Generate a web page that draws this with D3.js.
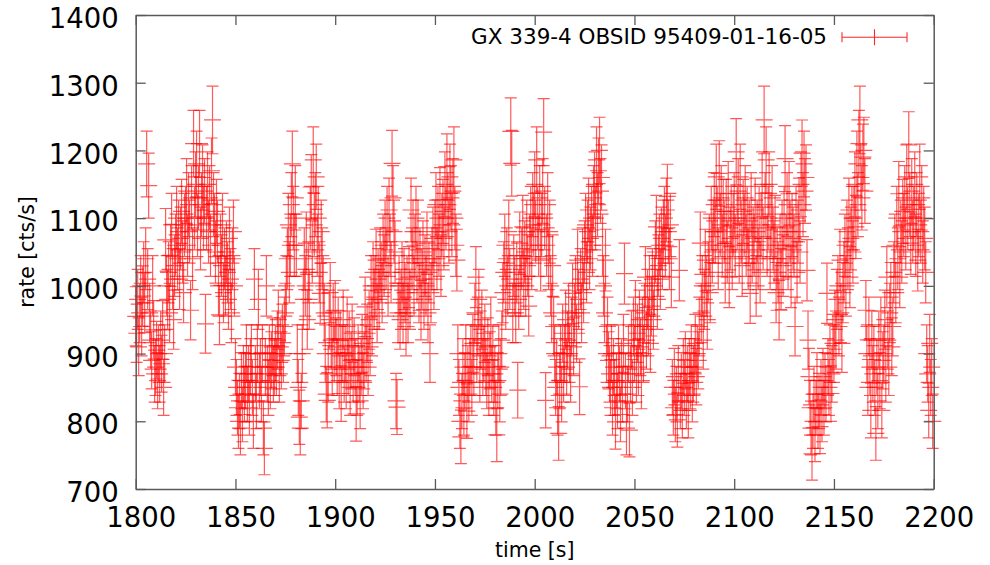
<!DOCTYPE html>
<html>
<head>
<meta charset="utf-8">
<script src="https://cdn.jsdelivr.net/npm/d3@7"></script>
<style>
  html, body { margin: 0; padding: 0; background: #fff; }
  svg { display: block; font-family: "DejaVu Sans", sans-serif; }
</style>
</head>
<body>
<div id="chart"></div>
<script>
// light curve data (0.5 s bins starting at 1800 s), one line = 5 s
const binStart = 1800;
const binWidth = 0.5;
const rate = [
  955, 930, 980, 910, 960, 1000, 940, 985, 1020, 975,
  1040, 1180, 1010, 1148, 960, 920, 890, 1000, 935, 870,
  880, 905, 860, 900, 870, 920, 885, 935, 850, 900,
  1068, 1000, 980, 1020, 960, 1045, 1090, 1010, 950, 1030,
  1060, 1100, 1040, 1080, 1010, 1070, 1110, 1050, 990, 1090,
  1100, 1140, 1060, 1120, 1080, 964, 1130, 1040, 1210, 1100,
  1150, 1180, 1090, 1130, 1210, 1070, 1120, 1160, 1100, 1140,
  944, 1100, 1150, 1080, 1130, 1060, 1170, 1245, 1120, 1090,
  1050, 1110, 1080, 1000, 957, 1060, 1030, 1090, 990, 1040,
  1000, 1050, 1020, 980, 1070, 1010, 960, 1040, 1080, 1000,
  880, 850, 820, 800, 830, 790, 860, 810, 870, 840,
  860, 900, 840, 870, 820, 880, 900, 850, 800, 1010,
  870, 830, 900, 980, 860, 880, 840, 900, 790, 760,
  880, 1000, 870, 850, 900, 860, 890, 910, 870, 880,
  900, 880, 920, 950, 870, 910, 890, 930, 900, 940,
  960, 1000, 1040, 1090, 1020, 1060, 1120, 1180, 1100, 1060,
  1130, 1060, 900, 850, 806, 790, 830, 900, 980, 1040,
  1000, 1063, 950, 1020, 980, 1100, 1146, 1050, 1186, 1090,
  1120, 1161, 1060, 1100, 1020, 989, 1080, 1040, 1000, 960,
  900, 840, 831, 870, 950, 990, 920, 880, 960, 900,
  964, 910, 880, 940, 860, 920, 841, 900, 950, 870,
  900, 860, 940, 880, 920, 850, 890, 930, 870, 910,
  880, 811, 850, 900, 870, 830, 880, 915, 860, 890,
  969, 900, 930, 880, 950, 910, 1000, 940, 1020, 980,
  1000, 1038, 960, 1010, 980, 1040, 1020, 990, 1060, 1030,
  1080, 1040, 1100, 1000, 1112, 1060, 1020, 1181, 1130, 1080,
  1050, 830, 821, 960, 1000, 950, 980, 1020, 960, 1010,
  990, 940, 1000, 960, 1013, 980, 1112, 1040, 1080, 1000,
  1060, 1100, 1020, 1080, 990, 1040, 964, 1010, 1050, 980,
  1030, 1000, 1063, 960, 1020, 900, 990, 1040, 1070, 1010,
  1080, 1120, 1040, 1100, 1060, 1127, 1030, 1090, 1110, 1070,
  1150, 1100, 1176, 1120, 1080, 1161, 1130, 1090, 1140, 1186,
  1100, 1060, 1038, 900, 850, 800, 777, 830, 880, 820,
  860, 900, 815, 870, 840, 880, 900, 850, 915, 880,
  960, 1013, 900, 940, 980, 870, 920, 950, 880, 900,
  930, 880, 860, 910, 850, 890, 940, 870, 900, 850,
  870, 820, 780, 860, 900, 840, 880, 920, 990, 1020,
  1060, 980, 1040, 1000, 1080, 1010, 1228, 1181, 960, 1030,
  1000, 960, 1020, 846, 980, 1063, 1000, 1040, 1087, 1010,
  1050, 1000, 1080, 1030, 970, 1060, 1100, 1040, 1120, 1090,
  1150, 1080, 1186, 1100, 1060, 1130, 1038, 1090, 1140, 1227,
  1100, 831, 1060, 1120, 1040, 1080, 1000, 960, 1030, 940,
  900, 850, 880, 820, 782, 860, 900, 840, 930, 870,
  900, 950, 880, 920, 960, 900, 870, 940, 989, 910,
  960, 1000, 930, 1038, 980, 851, 1010, 960, 1040, 990,
  1050, 1090, 1020, 1080, 1112, 1040, 1070, 1100, 1060, 1130,
  1150, 1100, 1186, 1120, 1170, 1200, 1140, 1160, 1060, 1000,
  960, 1038, 900, 940, 890, 870, 850, 900, 820, 880,
  850, 799, 860, 830, 900, 870, 810, 880, 840, 915,
  1018, 860, 790, 840, 900, 787, 870, 920, 850, 940,
  900, 964, 870, 930, 880, 950, 910, 860, 940, 900,
  960, 1013, 920, 980, 940, 1000, 915, 970, 1010, 950,
  1000, 1050, 1087, 980, 1030, 1060, 1010, 1070, 1040, 1080,
  1100, 1060, 1112, 1132, 1080, 1040, 1090, 1013, 850, 820,
  866, 810, 840, 802, 870, 1023, 830, 860, 816, 880,
  850, 890, 830, 870, 816, 880, 860, 900, 840, 870,
  880, 915, 866, 900, 890, 940, 1063, 960, 1000, 920,
  980, 1038, 1000, 950, 1020, 1060, 990, 1100, 1050, 1080,
  1120, 1080, 1161, 1100, 1040, 1166, 1090, 1130, 1060, 1110,
  1080, 1020, 1110, 1050, 1136, 1013, 1070, 1100, 1040, 1090,
  1120, 1060, 1198, 1100, 1140, 1050, 1161, 1080, 1030, 1110,
  1090, 1130, 1060, 1100, 1040, 1080, 989, 1120, 1050, 1070,
  1060, 1112, 1000, 1080, 1040, 1100, 1020, 1090, 1150, 1070,
  1245, 1120, 1186, 1060, 1100, 1150, 1040, 1090, 1130, 1070,
  1050, 1087, 990, 1040, 1020, 964, 1060, 1010, 1080, 1030,
  1100, 1188, 1060, 1120, 1040, 1136, 1080, 1013, 1090, 1070,
  1060, 940, 1100, 1020, 1080, 1112, 1050, 1150, 1196, 1120,
  1180, 1140, 1160, 1023, 920, 866, 820, 790, 752, 800,
  840, 780, 820, 860, 800, 830, 792, 850, 810, 866,
  820, 860, 840, 989, 880, 850, 900, 841, 870, 915,
  900, 950, 920, 980, 1000, 940, 1038, 960, 915, 990,
  1020, 1060, 1000, 1080, 1040, 1112, 1013, 1070, 1100, 1050,
  1100, 1150, 1087, 1180, 1120, 1210, 1245, 1160, 1130, 1190,
  1200, 1140, 964, 900, 850, 940, 880, 816, 920, 870,
  900, 850, 782, 880, 830, 920, 860, 940, 816, 890,
  900, 950, 870, 1013, 920, 880, 960, 990, 910, 940,
  1020, 1060, 990, 1100, 1040, 1136, 1013, 1080, 1050, 1110,
  1090, 1130, 1070, 1161, 1100, 1208, 1120, 1063, 1140, 1080,
  1100, 1150, 1060, 1120, 1038, 1090, 1161, 1080, 1130, 1050,
  1100, 1070, 1020, 900, 870, 816, 915, 850, 880, 800
];

const xTicks = [1800, 1850, 1900, 1950, 2000, 2050, 2100, 2150, 2200];
const yTicks = [700, 800, 900, 1000, 1100, 1200, 1300, 1400];
const legendLabel = 'GX 339-4 OBSID 95409-01-16-05';
const xLabel = 'time [s]';
const yLabel = 'rate [cts/s]';

const WIDTH = 990, HEIGHT = 565;
const PLOT = { left: 135.7, right: 933.7, top: 15, bottom: 489 };
const RED = '#ff0000';
const AXIS_COLOR = '#5a5a5a';
const CAP = 6, PLUS = 8.5;

const svg = d3.select('#chart')
  .append('svg')
  .attr('width', WIDTH)
  .attr('height', HEIGHT)
  .style('background', '#fff');

const x = d3.scaleLinear().domain([1800, 2200]).range([PLOT.left, PLOT.right]);
const y = d3.scaleLinear().domain([700, 1400]).range([PLOT.bottom, PLOT.top]);

// points with Poisson errors of each bin
const points = rate.map((r, i) => ({
  t: binStart + i * binWidth,
  r: r,
  err: Math.sqrt(r * binWidth) / binWidth
}));

// error bars: vertical bar + caps + "+" marker at the value
svg.append('g')
  .selectAll('path')
  .data(points)
  .join('path')
  .attr('d', d => {
    const px = x(d.t), py = y(d.r);
    const y1 = y(d.r + d.err), y2 = y(d.r - d.err);
    return `M${px},${y1}V${y2}` +
      `M${px - CAP},${y1}H${px + CAP}` +
      `M${px - CAP},${y2}H${px + CAP}` +
      `M${px - PLUS},${py}H${px + PLUS}`;
  })
  .attr('fill', 'none')
  .attr('stroke', RED)
  .attr('stroke-width', 1.2)
  .attr('stroke-opacity', 0.65);

// axes (ticks pointing inward, mirrored on top/right)
function styleAxis(g) {
  g.select('.domain').attr('stroke', AXIS_COLOR).attr('stroke-width', 1.5);
  g.selectAll('.tick line').attr('stroke', AXIS_COLOR).attr('stroke-width', 1.3);
  g.selectAll('.tick text').attr('fill', '#000').attr('font-family', '"DejaVu Sans", sans-serif');
}

svg.append('g')
  .attr('transform', `translate(0,${PLOT.bottom})`)
  .call(d3.axisBottom(x).tickValues(xTicks).tickSizeInner(-10).tickSizeOuter(0).tickPadding(18.5).tickFormat(d3.format('d')))
  .call(styleAxis)
  .call(g => g.selectAll('.tick text').attr('font-size', 27.5).attr('dx', 5));

svg.append('g')
  .attr('transform', `translate(0,${PLOT.top})`)
  .call(d3.axisTop(x).tickValues(xTicks).tickSizeInner(-10).tickSizeOuter(0).tickFormat(''))
  .call(styleAxis);

svg.append('g')
  .attr('transform', `translate(${PLOT.left},0)`)
  .call(d3.axisLeft(y).tickValues(yTicks).tickSizeInner(-10).tickSizeOuter(0).tickPadding(17).tickFormat(d3.format('d')))
  .call(styleAxis)
  .call(g => g.selectAll('.tick text').attr('font-size', 27.5).attr('dy', '0.46em'));

svg.append('g')
  .attr('transform', `translate(${PLOT.right},0)`)
  .call(d3.axisRight(y).tickValues(yTicks).tickSizeInner(-10).tickSizeOuter(0).tickFormat(''))
  .call(styleAxis);

// axis titles
svg.append('text')
  .attr('x', (PLOT.left + PLOT.right) / 2)
  .attr('y', 557)
  .attr('text-anchor', 'middle')
  .attr('font-size', 20.5)
  .attr('fill', '#000')
  .text(xLabel);

svg.append('text')
  .attr('transform', `translate(34,${(PLOT.top + PLOT.bottom) / 2}) rotate(-90)`)
  .attr('text-anchor', 'middle')
  .attr('font-size', 20.5)
  .attr('fill', '#000')
  .text(yLabel);

// legend
const legend = svg.append('g').attr('transform', 'translate(0,37.3)');
legend.append('text')
  .attr('x', 827)
  .attr('y', 7)
  .attr('text-anchor', 'end')
  .attr('font-size', 21.5)
  .attr('fill', '#000')
  .text(legendLabel);

legend.append('path')
  .attr('d', 'M842,0H907M842,-5V5M907,-5V5M874.5,-8V8')
  .attr('fill', 'none')
  .attr('stroke', RED)
  .attr('stroke-width', 1.1)
  .attr('stroke-opacity', 0.85);
</script>
</body>
</html>
